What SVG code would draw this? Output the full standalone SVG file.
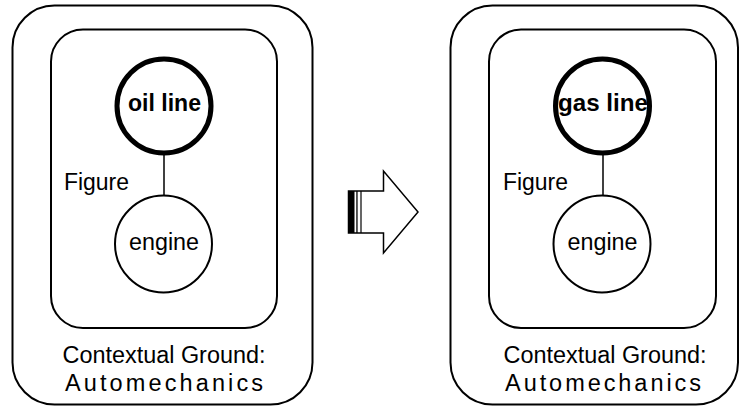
<svg xmlns="http://www.w3.org/2000/svg" width="740" height="407" viewBox="0 0 740 407">
  <style>
    .frame { fill: none; stroke: #000; stroke-width: 2; }
    .focus { fill: #fff; stroke: #000; stroke-width: 5; }
    .node { fill: #fff; stroke: #000; stroke-width: 2; }
    .link { stroke: #000; stroke-width: 1.5; }
    text { font-family: "Liberation Sans", Arial, Helvetica, sans-serif; fill: #000; }
    .lbl { font-size: 23px; }
    .bold { font-size: 23px; font-weight: bold; }
    .ground { font-size: 23.5px; text-anchor: middle; }
  </style>

  <!-- Left scene: oil line -->
  <g id="left-context">
    <rect class="frame" x="12.5" y="5.5" width="300" height="399" rx="42" ry="42"/>
    <text class="ground" x="164" y="363" textLength="203" lengthAdjust="spacingAndGlyphs">Contextual Ground:</text>
    <text class="ground" x="164" y="391" textLength="198" lengthAdjust="spacing">Automechanics</text>
  </g>
  <g id="left-figure">
    <rect class="frame" x="51" y="29.5" width="226" height="298.5" rx="32" ry="32"/>
    <text class="lbl" x="64" y="190" textLength="65" lengthAdjust="spacingAndGlyphs">Figure</text>
  </g>

  <g id="connectors">
    <line class="link" x1="164" y1="155" x2="164" y2="196"/>
    <line class="link" x1="603" y1="155" x2="603" y2="196"/>
  </g>

  <g id="oil-line">
    <circle class="focus" cx="164" cy="106" r="47"/>
    <text class="bold" x="164.5" y="111" text-anchor="middle" textLength="73" lengthAdjust="spacingAndGlyphs">oil line</text>
  </g>
  <g id="left-engine">
    <circle class="node" cx="163.5" cy="244" r="48.5"/>
    <text class="lbl" x="164" y="250" text-anchor="middle" textLength="70" lengthAdjust="spacingAndGlyphs">engine</text>
  </g>

  <!-- Transition arrow -->
  <g id="shift-arrow">
    <polygon points="348.5,191 383.5,191 383.5,171 418,212 383.5,253 383.5,233 348.5,233" fill="#fff" stroke="#000" stroke-width="1.5"/>
    <rect x="348.5" y="191" width="6" height="42" fill="#000"/>
    <rect x="356.3" y="191" width="1.3" height="42" fill="#000"/>
    <line x1="361" y1="191" x2="361" y2="233" stroke="#000" stroke-width="1.2"/>
  </g>

  <!-- Right scene: gas line -->
  <g id="right-context">
    <rect class="frame" x="450.5" y="5.5" width="287.5" height="399" rx="42" ry="42"/>
    <text class="ground" x="605" y="363" textLength="203" lengthAdjust="spacingAndGlyphs">Contextual Ground:</text>
    <text class="ground" x="603" y="391" textLength="196" lengthAdjust="spacing">Automechanics</text>
  </g>
  <g id="right-figure">
    <rect class="frame" x="489" y="29.5" width="227" height="298.5" rx="32" ry="32"/>
    <text class="lbl" x="503" y="190" textLength="65" lengthAdjust="spacingAndGlyphs">Figure</text>
  </g>

  <g id="gas-line">
    <circle class="focus" cx="602.5" cy="106" r="47"/>
    <text class="bold" x="603" y="111" text-anchor="middle" textLength="90" lengthAdjust="spacingAndGlyphs">gas line</text>
  </g>
  <g id="right-engine">
    <circle class="node" cx="602" cy="244" r="48.5"/>
    <text class="lbl" x="602.5" y="250" text-anchor="middle" textLength="70" lengthAdjust="spacingAndGlyphs">engine</text>
  </g>
</svg>
